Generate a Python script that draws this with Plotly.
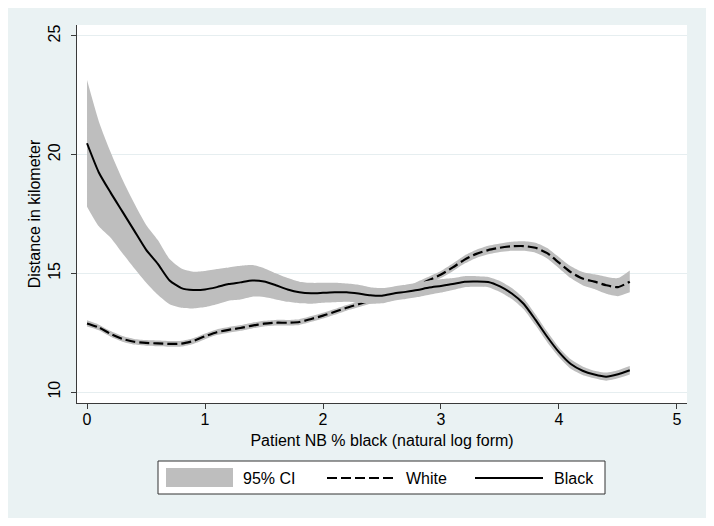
import plotly.graph_objects as go

# ---------------- data ----------------
x_vals = [0.0, 0.1, 0.2, 0.3, 0.4, 0.5, 0.6, 0.7, 0.8, 0.9,
          1.0, 1.1, 1.2, 1.3, 1.4, 1.5, 1.6, 1.7, 1.8, 1.9,
          2.0, 2.1, 2.2, 2.3, 2.4, 2.5, 2.6, 2.7, 2.8, 2.9,
          3.0, 3.1, 3.2, 3.3, 3.4, 3.5, 3.6, 3.7, 3.8, 3.9,
          4.0, 4.1, 4.2, 4.3, 4.4, 4.5, 4.6]

black_est = [20.48, 19.25, 18.40, 17.60, 16.80, 16.00, 15.40, 14.70, 14.38, 14.30,
             14.32, 14.42, 14.55, 14.62, 14.70, 14.66, 14.50, 14.32, 14.20, 14.16,
             14.18, 14.20, 14.20, 14.15, 14.08, 14.06, 14.15, 14.22, 14.30, 14.40,
             14.47, 14.55, 14.65, 14.66, 14.64, 14.45, 14.15, 13.72, 13.05, 12.33,
             11.68, 11.18, 10.90, 10.74, 10.65, 10.75, 10.92]

black_hi = [23.14, 21.40, 20.10, 18.95, 17.95, 17.05, 16.40, 15.60, 15.20, 15.07,
            15.10, 15.18, 15.25, 15.32, 15.35, 15.22, 15.00, 14.80, 14.65, 14.60,
            14.60, 14.60, 14.57, 14.52, 14.42, 14.38, 14.45, 14.52, 14.60, 14.70,
            14.75, 14.80, 14.88, 14.88, 14.85, 14.68, 14.38, 13.95, 13.28, 12.55,
            11.88, 11.38, 11.08, 10.90, 10.82, 10.92, 11.10]

black_lo = [17.81, 16.98, 16.50, 15.85, 15.22, 14.62, 14.10, 13.70, 13.55, 13.52,
            13.58, 13.70, 13.85, 13.90, 14.02, 14.00, 13.90, 13.80, 13.74, 13.72,
            13.76, 13.78, 13.80, 13.76, 13.72, 13.74, 13.85, 13.92, 14.00, 14.10,
            14.19, 14.30, 14.42, 14.44, 14.42, 14.22, 13.92, 13.49, 12.82, 12.10,
            11.48, 10.98, 10.72, 10.58, 10.48, 10.58, 10.74]

white_est = [12.89, 12.72, 12.45, 12.24, 12.12, 12.07, 12.05, 12.03, 12.04, 12.15,
             12.35, 12.52, 12.62, 12.70, 12.80, 12.88, 12.92, 12.92, 12.95, 13.08,
             13.22, 13.38, 13.55, 13.70, 13.85, 13.98, 14.10, 14.28, 14.50, 14.72,
             14.95, 15.25, 15.58, 15.82, 15.98, 16.08, 16.14, 16.15, 16.08, 15.85,
             15.45, 15.05, 14.78, 14.65, 14.50, 14.42, 14.65]

white_hi = [13.02, 12.84, 12.57, 12.36, 12.24, 12.19, 12.17, 12.15, 12.16, 12.27,
            12.47, 12.64, 12.74, 12.82, 12.92, 13.00, 13.04, 13.04, 13.07, 13.20,
            13.34, 13.50, 13.67, 13.83, 13.98, 14.11, 14.24, 14.42, 14.65, 14.87,
            15.10, 15.41, 15.75, 15.99, 16.16, 16.26, 16.33, 16.35, 16.29, 16.07,
            15.68, 15.30, 15.06, 14.96, 14.86, 14.80, 15.12]

white_lo = [12.76, 12.60, 12.33, 12.12, 12.00, 11.95, 11.93, 11.91, 11.92, 12.03,
            12.23, 12.40, 12.50, 12.58, 12.68, 12.76, 12.80, 12.80, 12.83, 12.96,
            13.10, 13.26, 13.43, 13.57, 13.72, 13.85, 13.96, 14.14, 14.35, 14.57,
            14.80, 15.09, 15.41, 15.65, 15.80, 15.90, 15.95, 15.95, 15.87, 15.63,
            15.22, 14.80, 14.50, 14.34, 14.14, 14.04, 14.20]

x_ticks = [0, 1, 2, 3, 4, 5]
y_ticks = [10, 15, 20, 25]

legend_labels = ["95% CI", "White", "Black"]
x_title = "Patient NB % black (natural log form)"
y_title = "Distance in kilometer"

# ---------------- style ----------------
FONT = "Liberation Sans, Arial, sans-serif"
CI_COLOR = "#BEBEBE"
PANEL = "#EAF2F3"
GRID = "#E6EEF0"
AXIS = "#3A3A3A"
DASH = "10px,4px"

fig = go.Figure()


def add_band(hi, lo):
    fig.add_trace(go.Scatter(x=x_vals, y=hi, mode="lines",
                             line=dict(width=0, shape="spline", smoothing=0.6),
                             hoverinfo="skip", showlegend=False))
    fig.add_trace(go.Scatter(x=x_vals, y=lo, mode="lines",
                             line=dict(width=0, shape="spline", smoothing=0.6),
                             fill="tonexty", fillcolor=CI_COLOR,
                             name=legend_labels[0], showlegend=False))


# drawing order as in the source: white CI, white line, black CI, black line
add_band(white_hi, white_lo)
fig.add_trace(go.Scatter(x=x_vals, y=white_est, mode="lines", name=legend_labels[1],
                         line=dict(color="black", width=2.2, dash=DASH, shape="spline",
                                   smoothing=0.6),
                         showlegend=False))
add_band(black_hi, black_lo)
fig.add_trace(go.Scatter(x=x_vals, y=black_est, mode="lines", name=legend_labels[2],
                         line=dict(color="black", width=2, shape="spline", smoothing=0.6),
                         showlegend=False))

# page is offset by the 8px body margin; figure covers the light panel
OFF = 8
W, H = 698, 510
L, R, T, B = 77 - OFF, 687 - OFF, 25 - OFF, 403 - OFF  # plot area in figure px


def px_x(px):
    return (px - OFF - L) / (R - L)


def px_y(py):
    return (B - (py - OFF)) / (B - T)


shapes = [
    # legend box
    dict(type="rect", xref="paper", yref="paper",
         x0=px_x(158), x1=px_x(605), y0=px_y(494), y1=px_y(461),
         fillcolor="white", line=dict(color="#333333", width=1)),
    # CI swatch
    dict(type="rect", xref="paper", yref="paper",
         x0=px_x(166), x1=px_x(233), y0=px_y(487), y1=px_y(468),
         fillcolor=CI_COLOR, line=dict(width=0)),
    # dashed swatch
    dict(type="line", xref="paper", yref="paper",
         x0=px_x(327), x1=px_x(396), y0=px_y(478), y1=px_y(478),
         line=dict(color="black", width=2, dash=DASH)),
    # solid swatch
    dict(type="line", xref="paper", yref="paper",
         x0=px_x(475), x1=px_x(543), y0=px_y(478), y1=px_y(478),
         line=dict(color="black", width=2)),
]

annotations = [
    dict(x=px_x(241), y=px_y(478), xref="paper", yref="paper", text=legend_labels[0],
         showarrow=False, xanchor="left", yanchor="middle", font=dict(size=16)),
    dict(x=px_x(404), y=px_y(478), xref="paper", yref="paper", text=legend_labels[1],
         showarrow=False, xanchor="left", yanchor="middle", font=dict(size=16)),
    dict(x=px_x(552), y=px_y(478), xref="paper", yref="paper", text=legend_labels[2],
         showarrow=False, xanchor="left", yanchor="middle", font=dict(size=16)),
]

fig.update_layout(
    width=W, height=H,
    margin=dict(l=L, r=W - R, t=T, b=H - B, pad=0),
    paper_bgcolor=PANEL,
    plot_bgcolor="white",
    font=dict(family=FONT, size=16, color="black"),
    showlegend=False,
    shapes=shapes,
    annotations=annotations,
    xaxis=dict(
        range=[-0.085, 5.085], tickvals=x_ticks, ticktext=[str(v) for v in x_ticks],
        showgrid=False, zeroline=False, showline=True, linecolor=AXIS, linewidth=1,
        ticks="outside", ticklen=5, tickcolor=AXIS, tickfont=dict(size=16),
        ticklabelstandoff=-3,
        title=dict(text=x_title, font=dict(size=16), standoff=7),
        automargin=False,
    ),
    yaxis=dict(
        range=[9.54, 25.46], tickvals=y_ticks, ticktext=[str(v) for v in y_ticks],
        showgrid=True, gridcolor=GRID, gridwidth=1, zeroline=False,
        showline=True, linecolor=AXIS, linewidth=1,
        ticks="outside", ticklen=5, tickcolor=AXIS, tickfont=dict(size=16),
        tickangle=-90, ticklabelstandoff=5,
        title=dict(text=y_title, font=dict(size=16), standoff=0),
        automargin=False,
    ),
)

fig.write_html("out.html")
